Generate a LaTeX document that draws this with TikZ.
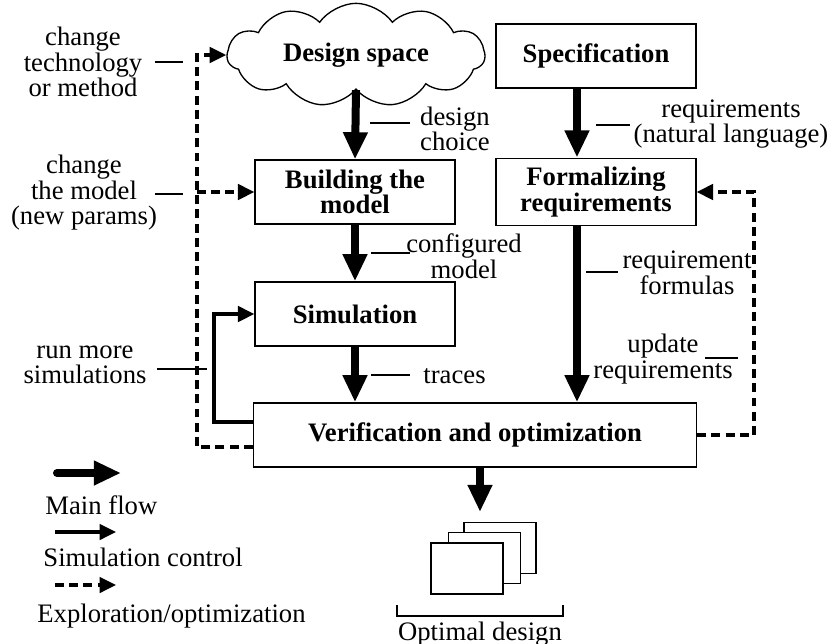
\documentclass[tikz,border=0pt]{standalone}
\usepackage{fontspec}
\setmainfont{Liberation Serif}
\usetikzlibrary{arrows.meta,shapes.symbols}

\tikzset{
  blk/.style={rectangle, draw, line width=0.6pt, fill=white,
    minimum width=90pt, minimum height=28.8pt, align=center, font=\bfseries},
  doc/.style={rectangle, draw, line width=0.6pt, fill=white,
    minimum width=32.4pt, minimum height=23pt},
  note/.style={align=center, inner sep=0pt},
  main/.style={line width=3.6pt, -{Triangle[width=10.4pt,length=12.2pt]}},
  ctrl/.style={line width=1.4pt, -{Triangle[width=7pt,length=7.4pt]}},
  explore/.style={ctrl, dash pattern=on 4pt off 2.4pt},
  tick/.style={line width=0.5pt}
}

\begin{document}
\fontsize{12}{11.5}\selectfont
\begin{tikzpicture}[x=0.45pt,y=-0.45pt]
\useasboundingbox (0,0) rectangle (832,643);

% blocks
\node[cloud, draw, line width=0.6pt, cloud puffs=11, cloud puff arc=110,
    aspect=3.2, minimum width=116pt, minimum height=38pt,
    font=\bfseries] (dsp) at (356,55) {Design space};
\node[blk] (spec) at (596,56) {Specification};
\node[blk] (build) at (355,192) {Building the\\model};
\node[blk] (form) at (596,192) {Formalizing\\requirements};
\node[blk] (sim) at (355,314) {Simulation};
\node[blk, minimum width=199.4pt] (verif) at (475,435) {Verification and optimization};

% stack of designs
\node[doc] (doc3) at (500,548) {};
\node[doc] (doc2) at (484.5,558) {};
\node[doc] (doc1) at (467,568.5) {};
\node[anchor=base] (optd) at (480,640) {Optimal design};
\draw[tick] (397,605) |- (563,616) -- (563,605);

% helper columns
\coordinate (xm) at (577,0);
\coordinate (xo) at (480,0);
\coordinate (xl) at (197,0);
\coordinate (xs) at (214,0);
\coordinate (xr) at (754,0);
\coordinate (tipd) at (480,512);

% main flow
\draw[main] (dsp.south) -- (build.north);
\draw[main] (build.south) -- (sim.north);
\draw[main] (sim.south) -- (verif.north -| sim.south);
\draw[main] (xm |- spec.south) -- (xm |- form.north);
\draw[main] (xm |- form.south) -- (xm |- verif.north);
\draw[main] (xo |- verif.south) -- (tipd);

% simulation control
\draw[ctrl] ([yshift=5.85pt]verif.west) -| (xs |- sim.west) -- (sim.west);

% exploration / optimization
\draw[explore] ([yshift=-5.4pt]verif.west) -| (xl |- dsp.west) -- (dsp.west);
\draw[explore] (xl |- build.west) -- (build.west);
\draw[explore] (verif.east) -| (xr |- form.east) -- (form.east);

% labels
\node[note] (chtech) at (83,62) {change\\technology\\or method};
\draw[tick] (155,62) -- (183,62);
\node[note] (chmod) at (84,193) {change\\the model\\(new params)};
\draw[tick] (155,194) -- (183,194);
\node[note] (runmore) at (85,365) {run more\\simulations};
\draw[tick] (157,369) -- (207,369);
\node[note] (choice) at (455,129) {design\\choice};
\draw[tick] (370,123) -- (410,123);
\node[note] (reqnl) at (731,124) {requirements\\(natural language)};
\draw[tick] (596,125) -- (630,125);
\node[note] (confmod) at (464,256) {configured\\model};
\draw[tick] (371,253) -- (410,253);
\node[note] (reqf) at (687,273) {requirement\\formulas};
\draw[tick] (586,272) -- (618,272);
\node[note] (upd) at (663,359) {update\\requirements};
\draw[tick] (705,358) -- (738,358);
\node[anchor=base west, inner sep=0pt] (traces) at (423,383) {traces};
\draw[tick] (371,375) -- (410,375);

% legend
\coordinate (lg1a) at (57,473);
\coordinate (lg1b) at (121,473);
\draw[main, line cap=round] (lg1a) -- (lg1b);
\node[anchor=base west, inner sep=0pt] (lgmain) at (45,514) {Main flow};
\coordinate (lg2a) at (55,532);
\coordinate (lg2b) at (116,532);
\draw[ctrl] (lg2a) -- (lg2b);
\node[anchor=base west, inner sep=0pt] (lgctrl) at (43,566) {Simulation control};
\coordinate (lg3a) at (55,585);
\coordinate (lg3b) at (116,585);
\draw[explore] (lg3a) -- (lg3b);
\node[anchor=base west, inner sep=0pt] (lgexp) at (37,622) {Exploration/optimization};
\end{tikzpicture}
\end{document}
